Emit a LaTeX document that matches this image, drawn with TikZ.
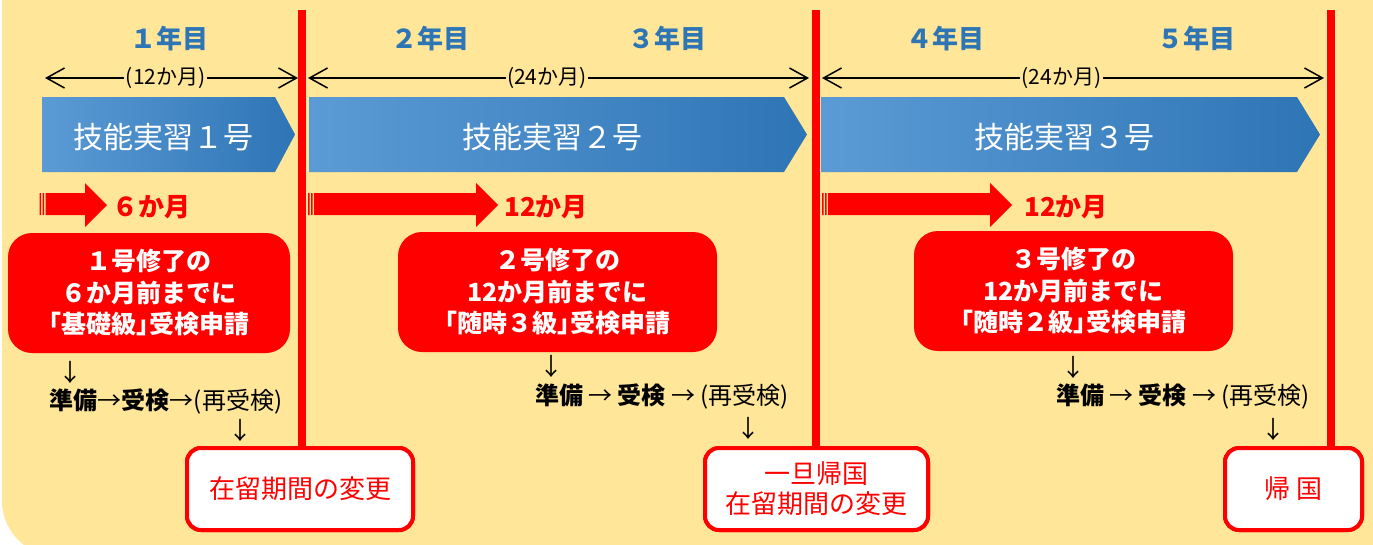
\documentclass[tikz,border=0pt]{standalone}
\usepackage{fontspec}
\setmainfont{Noto Sans CJK JP}
\newfontfamily\jph{Noto Sans CJK JP}[RawFeature=+halt]
\usetikzlibrary{arrows.meta}
\definecolor{bgy}{RGB}{255,230,153}
\definecolor{yblue}{RGB}{46,117,182}
\definecolor{cL}{RGB}{91,155,213}
\definecolor{cR}{RGB}{46,117,182}
\definecolor{rred}{RGB}{255,0,0}
\newcommand{\lbr}{{\jph 「}}
\newcommand{\rbr}{{\jph 」}}
\begin{document}
\begin{tikzpicture}[x=1pt,y=-1pt,
  year/.style={text=yblue,font=\fontsize{26}{26}\selectfont\bfseries,inner sep=0pt},
  spanlbl/.style={fill=bgy,inner sep=1.5pt,font=\fontsize{21}{21}\selectfont,pos=0.477},
  dbl/.style={{Straight Barb[length=18pt,width=20pt]}-{Straight Barb[length=18pt,width=20pt]},line width=1.5pt,black},
  vline/.style={rred,line width=8pt},
  chevtxt/.style={text=white,font=\fontsize{30}{30}\selectfont,inner sep=0pt},
  redarrow/.style={fill=rred},
  redlbl/.style={text=rred,font=\fontsize{26}{26}\selectfont\bfseries,inner sep=0pt,anchor=west},
  redbox/.style={fill=rred,rounded corners=24pt,text=white,align=center,inner sep=0pt,
     font=\fontsize{25}{31.5}\selectfont\bfseries,minimum height=120pt},
  steps/.style={font=\fontsize{24}{24}\selectfont,inner sep=0pt},
  wbox/.style={draw=rred,line width=4pt,fill=white,rounded corners=14pt,text=rred,align=center,
     inner sep=0pt,font=\fontsize{26}{30}\selectfont,minimum height=82pt}
]
\useasboundingbox (0,0) rectangle (1373,544);
\clip (0,0) rectangle (1373,544);
% background
\fill[bgy,rounded corners=55pt] (2,-80) rectangle (1460,556);

% white boxes (named first for line ends)
\path (300,489) node[wbox,minimum width=226pt] (w1) {在留期間の変更};
\path (816.5,489) node[wbox,minimum width=223pt] (w2) {一旦帰国\\在留期間の変更};
\path (1293.5,489) node[wbox,minimum width=137pt] (w3) {帰 国};

% red vertical lines
\coordinate (t1) at (302,10);
\coordinate (t2) at (815.5,10);
\coordinate (t3) at (1330.5,10);
\draw[vline] (t1) -- (t1 |- w1.north);
\draw[vline] (t2) -- (t2 |- w2.north);
\draw[vline] (t3) -- (t3 |- w3.north);
% redraw white boxes on top
\path (300,489) node[wbox,minimum width=226pt] {在留期間の変更};
\path (816.5,489) node[wbox,minimum width=223pt] {一旦帰国\\在留期間の変更};
\path (1293.5,489) node[wbox,minimum width=137pt] {帰 国};

% year labels
\node[year] (y1) at (169,39) {１年目};
\node[year] (y2) at (430,39) {２年目};
\node[year] (y3) at (667,39) {３年目};
\node[year] (y4) at (945,39) {４年目};
\node[year] (y5) at (1196,39) {５年目};

% double arrows
\coordinate (a1l) at (45,78); \coordinate (a1r) at (298,78);
\coordinate (a2l) at (308,78); \coordinate (a2r) at (809,78);
\coordinate (a3l) at (822,78); \coordinate (a3r) at (1324,78);
\draw[dbl] (a1l) -- node[spanlbl] (l1) {(12か月)} (a1r);
\draw[dbl] (a2l) -- node[spanlbl] (l2) {(24か月)} (a2r);
\draw[dbl] (a3l) -- node[spanlbl] (l3) {(24か月)} (a3r);

% chevrons
\shade[left color=cL,right color=cR] (42,97) -- (275,97) -- (295,134.5) -- (275,172) -- (42,172) -- cycle;
\shade[left color=cL,right color=cR] (309,97) -- (784,97) -- (807,134.5) -- (784,172) -- (309,172) -- cycle;
\shade[left color=cL,right color=cR] (821,97) -- (1297,97) -- (1320,134.5) -- (1297,172) -- (821,172) -- cycle;
\node[chevtxt] (c1) at (163,137) {技能実習１号};
\node[chevtxt] (c2) at (552,137) {技能実習２号};
\node[chevtxt] (c3) at (1064,137) {技能実習３号};

% striped red arrows
\fill[redarrow] (39.5,193) rectangle (41,215) (42.5,193) rectangle (44,215)
  (45.5,193) -- (85,193) -- (85,183) -- (107,205) -- (85,227) -- (85,215) -- (45.5,215) -- cycle;
\fill[redarrow] (308,193) rectangle (309.5,215) (311,193) rectangle (312.5,215)
  (314,193) -- (476,193) -- (476,183) -- (498,205) -- (476,227) -- (476,215) -- (314,215) -- cycle;
\fill[redarrow] (822,193) rectangle (823.5,215) (825,193) rectangle (826.5,215)
  (828,193) -- (990,193) -- (990,183) -- (1012,205) -- (990,227) -- (990,215) -- (828,215) -- cycle;
\node[redlbl] (m1) at (112,207) {６か月};
\node[redlbl] (m2) at (504,207) {12か月};
\node[redlbl] (m3) at (1024,207) {12か月};

% red boxes
\node[redbox,minimum width=282pt] (r1) at (149,293) {１号修了の\\６か月前までに\\\lbr 基礎級\rbr 受検申請};
\node[redbox,minimum width=319pt] (r2) at (557.5,292) {２号修了の\\12か月前までに\\\lbr 随時３級\rbr 受検申請};
\node[redbox,minimum width=319pt] (r3) at (1073.5,291) {３号修了の\\12か月前までに\\\lbr 随時２級\rbr 受検申請};

% steps
\node[steps] (d1a) at (70,372) {↓};
\node[steps] (s1) at (166,402) {\textbf{準備}→\textbf{受検}→(再受検)};
\node[steps] (d1b) at (240,430) {↓};
\node[steps] (d2a) at (551,366) {↓};
\node[steps] (s2) at (662,397) {\textbf{準備} → \textbf{受検} → (再受検)};
\node[steps] (d2b) at (748,428) {↓};
\node[steps] (d3a) at (1073,367) {↓};
\node[steps] (s3) at (1183,397) {\textbf{準備} → \textbf{受検} → (再受検)};
\node[steps] (d3b) at (1273,429) {↓};
\end{tikzpicture}
\end{document}
